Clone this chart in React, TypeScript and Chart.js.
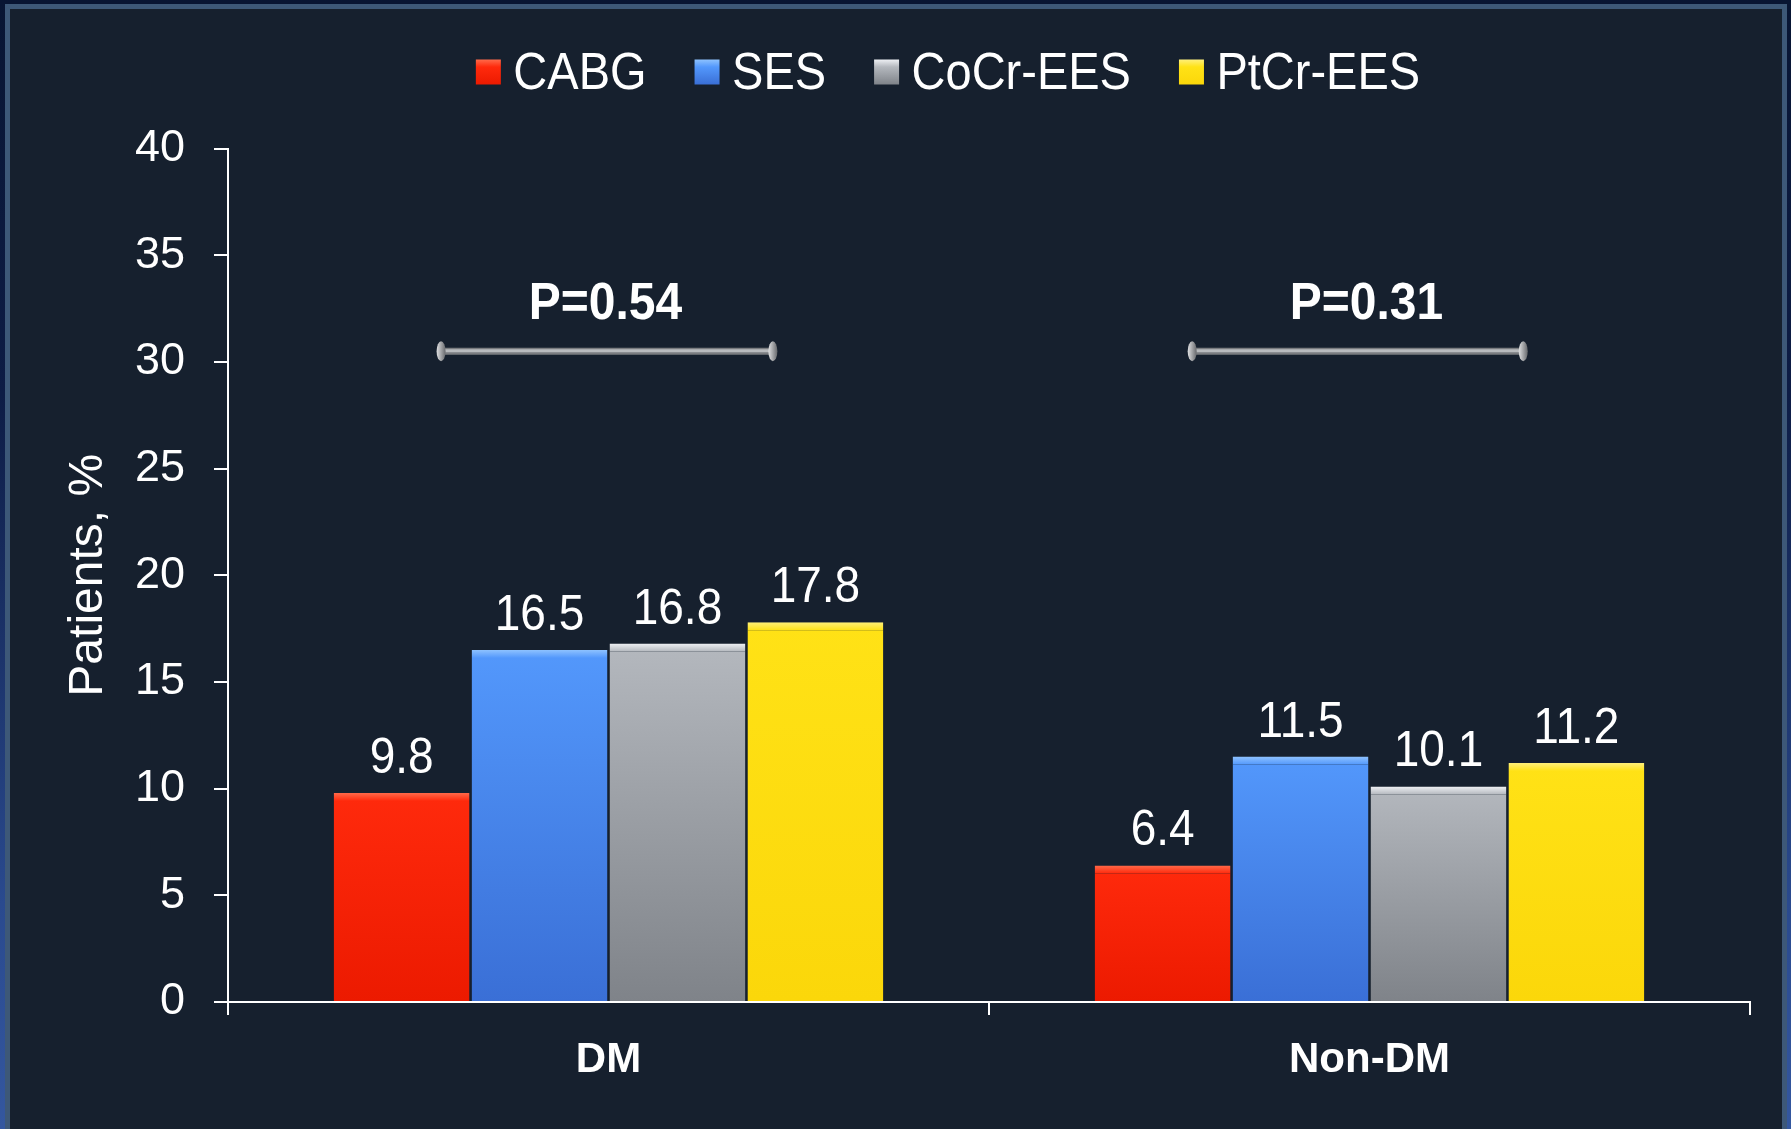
import React, { useEffect, useRef } from "react";
import { Chart, registerables } from "chart.js";

Chart.register(...registerables);

// ---------- data ----------
const categories = ["DM", "Non-DM"];
const seriesNames = ["CABG", "SES", "CoCr-EES", "PtCr-EES"];
const cabgValues = [9.8, 6.4];
const sesValues = [16.5, 11.5];
const cocrValues = [16.8, 10.1];
const ptcrValues = [17.8, 11.2];
const pValueLabels = ["P=0.54", "P=0.31"];
const bracketLevel = 30.5; // y value of the comparison bracket
const pLabelLevel = 32; // y value of the P label baseline
const yMin = 0;
const yMax = 40;
const yStep = 5;

// ---------- styles ----------
const FONT = '"Liberation Sans", Arial, Helvetica, sans-serif';
const barTop = ["#ff2a0c", "#5398fc", "#b4b8be", "#ffe216"];
const barBottom = ["#ec1a00", "#3a6fd6", "#7f8389", "#fbd70a"];
const barHighlight = ["#ff6a4a", "#8ec2ff", "#eef0f4", "#fff07a"];
const bracketSpan = [
  [-0.22, 0.216],
  [-0.233, 0.202],
];

const W = 1791;
const H = 1129;

function stretchedText(ctx: any, text: string, x: number, y: number, sy: number) {
  ctx.save();
  ctx.translate(x, y);
  ctx.scale(1, sy);
  ctx.fillText(text, 0, 0);
  ctx.restore();
}

function gradientFor(i: number) {
  return (ctx: any) => {
    const chart = ctx.chart;
    const area = chart.chartArea;
    const ys = chart.scales && chart.scales.y;
    if (!area || !ys || ctx.raw == null) return barTop[i];
    const yTop = ys.getPixelForValue(ctx.raw);
    const yBot = ys.getPixelForValue(0);
    if (!isFinite(yTop) || !isFinite(yBot) || yTop === yBot) return barTop[i];
    const g = chart.ctx.createLinearGradient(0, yTop, 0, yBot);
    g.addColorStop(0, barTop[i]);
    g.addColorStop(1, barBottom[i]);
    return g;
  };
}

function highlightFor(i: number) {
  return (ctx: any) => {
    const chart = ctx.chart;
    const ys = chart.scales && chart.scales.y;
    if (!ys || ctx.raw == null) return barHighlight[i];
    const yTop = ys.getPixelForValue(ctx.raw);
    if (!isFinite(yTop)) return barHighlight[i];
    const g = chart.ctx.createLinearGradient(0, yTop, 0, yTop + 8);
    g.addColorStop(0, barHighlight[i]);
    g.addColorStop(1, barTop[i]);
    return g;
  };
}

const valueLabelPlugin = {
  id: "valueLabels",
  afterDatasetsDraw(chart: any) {
    const ctx = chart.ctx;
    ctx.save();
    ctx.font = `normal 46px ${FONT}`;
    ctx.fillStyle = "#ffffff";
    ctx.textAlign = "center";
    ctx.textBaseline = "alphabetic";
    chart.data.datasets.forEach((ds: any, di: number) => {
      const meta = chart.getDatasetMeta(di);
      meta.data.forEach((bar: any, i: number) => {
        const v = ds.data[i];
        stretchedText(ctx, v.toFixed(1), bar.x, bar.y - 20, 1.1);
      });
    });
    ctx.restore();
  },
};

const bracketPlugin = {
  id: "brackets",
  afterDatasetsDraw(chart: any) {
    const ctx = chart.ctx;
    const xs = chart.scales.x;
    const ys = chart.scales.y;
    const catW = xs.getPixelForValue(1) - xs.getPixelForValue(0);
    const by = ys.getPixelForValue(bracketLevel);
    const ly = ys.getPixelForValue(pLabelLevel);
    ctx.save();
    categories.forEach((_, i) => {
      const cx = xs.getPixelForValue(i);
      const x1 = cx + bracketSpan[i][0] * catW;
      const x2 = cx + bracketSpan[i][1] * catW;
      ctx.lineCap = "butt";
      ctx.strokeStyle = "#7a7c80";
      ctx.lineWidth = 7;
      ctx.beginPath();
      ctx.moveTo(x1, by);
      ctx.lineTo(x2, by);
      ctx.stroke();
      ctx.strokeStyle = "#b9bbbe";
      ctx.lineWidth = 3;
      ctx.beginPath();
      ctx.moveTo(x1, by - 0.5);
      ctx.lineTo(x2, by - 0.5);
      ctx.stroke();
      [x1, x2].forEach((x) => {
        const g = ctx.createLinearGradient(x - 4, 0, x + 4, 0);
        g.addColorStop(0, "#d8d9db");
        g.addColorStop(1, "#6d6f73");
        ctx.fillStyle = g;
        ctx.beginPath();
        ctx.ellipse(x, by, 4.5, 10, 0, 0, Math.PI * 2);
        ctx.fill();
      });
      ctx.font = `bold 48px ${FONT}`;
      ctx.fillStyle = "#ffffff";
      ctx.textAlign = "center";
      ctx.textBaseline = "alphabetic";
      stretchedText(ctx, pValueLabels[i], cx - 3, ly, 1.08);
    });
    ctx.restore();
  },
};

const legendPlugin = {
  id: "customLegend",
  afterDraw(chart: any) {
    const ctx = chart.ctx;
    const box = 25;
    const gap = 12.5;
    const spacing = 48;
    const cy = 72;
    const centerX = 948;
    ctx.save();
    ctx.font = `normal 47px ${FONT}`;
    const labels = chart.data.datasets.map((d: any) => d.label);
    const widths = labels.map((t: string) => ctx.measureText(t).width);
    const total =
      widths.reduce((a: number, w: number) => a + box + gap + w, 0) +
      spacing * (labels.length - 1);
    let x = centerX - total / 2;
    ctx.textBaseline = "middle";
    ctx.textAlign = "left";
    labels.forEach((t: string, i: number) => {
      const g = ctx.createLinearGradient(0, cy - box / 2, 0, cy + box / 2);
      g.addColorStop(0, barHighlight[i]);
      g.addColorStop(0.3, barTop[i]);
      g.addColorStop(1, barBottom[i]);
      ctx.fillStyle = g;
      ctx.fillRect(x, cy - box / 2, box, box);
      ctx.fillStyle = "#ffffff";
      stretchedText(ctx, t, x + box + gap, cy + 2, 1.12);
      x += box + gap + widths[i] + spacing;
    });
    ctx.restore();
  },
};

export default function App() {
  const canvasRef = useRef<HTMLCanvasElement | null>(null);

  useEffect(() => {
    document.body.style.margin = "0";
    const canvas = canvasRef.current;
    if (!canvas) return;
    const seriesValues = [cabgValues, sesValues, cocrValues, ptcrValues];
    const chart = new Chart(canvas, {
      type: "bar",
      data: {
        labels: categories,
        datasets: seriesNames.map((name, i) => ({
          label: name,
          data: seriesValues[i],
          backgroundColor: gradientFor(i),
          borderColor: highlightFor(i),
          borderWidth: { top: 8, left: 0, right: 0, bottom: 0 },
          borderSkipped: false,
          categoryPercentage: 0.725,
          barPercentage: 0.985,
        })),
      },
      options: {
        responsive: false,
        animation: false,
        devicePixelRatio: 1,
        layout: { padding: { top: 148.5, left: 0, right: 41, bottom: 0 } },
        plugins: {
          legend: { display: false },
          tooltip: { enabled: false },
        },
        scales: {
          x: {
            afterFit: (s: any) => {
              s.height = 127;
            },
            grid: {
              offset: true,
              drawOnChartArea: false,
              drawTicks: true,
              tickLength: 13,
              color: "#ffffff",
              lineWidth: 2,
            },
            border: { display: true, color: "#ffffff", width: 2 },
            ticks: {
              color: "#ffffff",
              font: { family: FONT, size: 42, weight: "bold" },
              padding: 20,
              maxRotation: 0,
              autoSkip: false,
            },
          },
          y: {
            min: yMin,
            max: yMax,
            afterFit: (s: any) => {
              s.width = 228;
            },
            grid: {
              drawOnChartArea: false,
              drawTicks: true,
              tickLength: 14,
              color: "#ffffff",
              lineWidth: 2,
            },
            border: { display: true, color: "#ffffff", width: 2 },
            ticks: {
              stepSize: yStep,
              color: "#ffffff",
              font: { family: FONT, size: 45 },
              padding: 29,
            },
            title: {
              display: true,
              text: "Patients, %",
              color: "#ffffff",
              font: { family: FONT, size: 48 },
              padding: { top: 60, bottom: 0 },
            },
          },
        },
      },
      plugins: [valueLabelPlugin, bracketPlugin, legendPlugin],
    } as any);
    return () => chart.destroy();
  }, []);

  return (
    <div
      style={{
        position: "fixed",
        left: 0,
        top: 0,
        width: W,
        height: H,
        overflow: "hidden",
        background: "linear-gradient(to bottom, #081533 0%, #0d1c45 35%, #2a4a8e 80%, #34579f 100%)",
      }}
    >
      <div
        style={{
          position: "absolute",
          left: 5,
          top: 4,
          width: 1772,
          height: H,
          background: "#16202e",
          borderLeft: "5px solid #3d5878",
          borderTop: "5px solid #3d5878",
          borderRight: "5px solid #3d5878",
        }}
      />
      <canvas
        ref={canvasRef}
        width={W}
        height={H}
        style={{ position: "absolute", left: 0, top: 0, width: W, height: H }}
      />
    </div>
  );
}
